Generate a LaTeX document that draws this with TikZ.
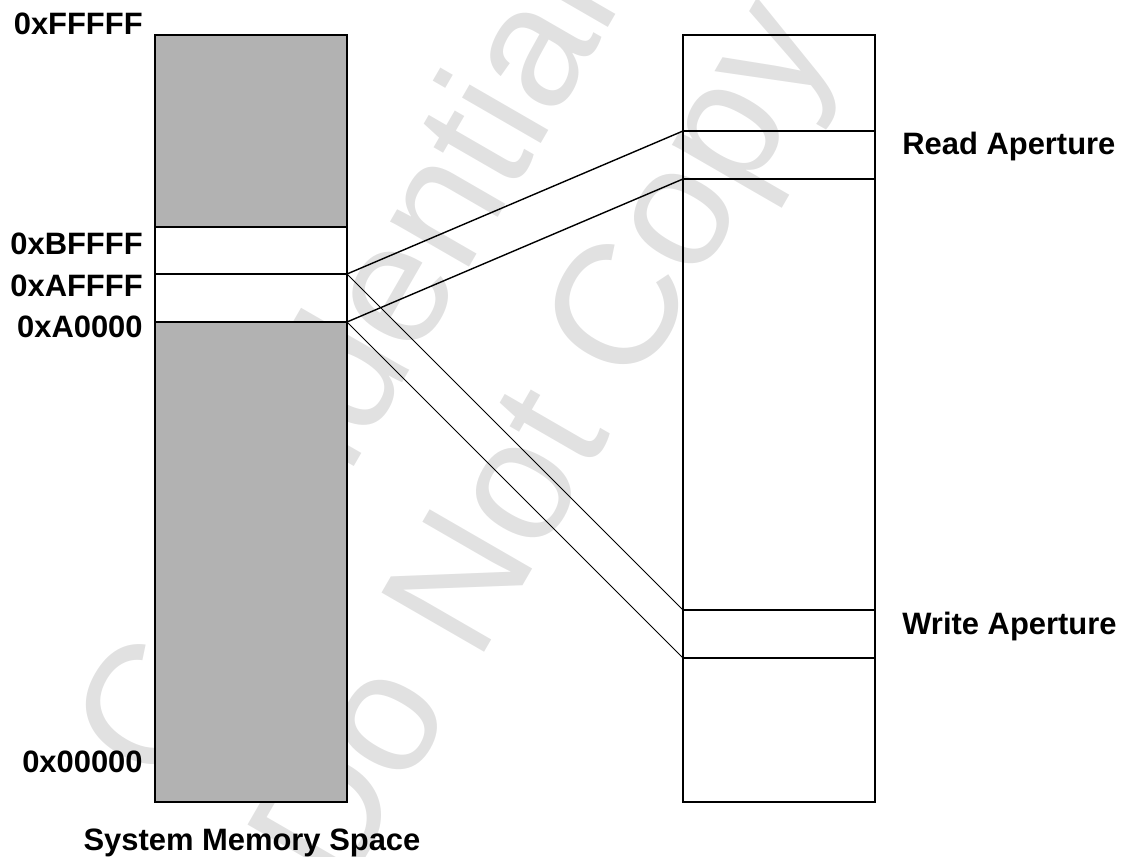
\documentclass[tikz,border=0pt]{standalone}
\usepackage{fontspec}
\setmainfont{Liberation Sans}
\definecolor{memgray}{RGB}{178,178,178}
\definecolor{wmgray}{RGB}{225,225,225}
\begin{document}
\begin{tikzpicture}[x=0.02cm,y=-0.02cm,
  band/.style={draw=black,line width=1.1pt,minimum width=3.84cm,inner sep=0pt,outer sep=0pt},
  grayband/.style={band,fill=memgray},
  addr/.style={font=\fontsize{17.6}{20}\selectfont\bfseries,inner sep=0pt,anchor=base east},
  lbl/.style={font=\fontsize{17.6}{20}\selectfont\bfseries,inner sep=0pt,anchor=base west},
  wm/.style={font=\fontsize{98}{110}\selectfont,text=wmgray,inner sep=0pt,anchor=base,rotate=60},
  readline/.style={line width=0.8pt},
  writeline/.style={line width=0.45pt}]
\useasboundingbox (0,0) rectangle (1129,857);
% watermark
\node[wm] (wm1) at (394,398) {Confidential};
\node[wm] (wm2) at (590,470) {Do Not Copy};
% left column
\node[grayband,minimum height=3.84cm] (ltop) at (251,131) {};
\node[band,minimum height=0.94cm] (lB) at (251,250.5) {};
\node[band,minimum height=0.96cm] (lA) at (251,298) {};
\node[grayband,minimum height=9.6cm] (lbot) at (251,562) {};
% right column
\node[band,minimum height=1.92cm] (rtop) at (779,83) {};
\node[band,minimum height=0.96cm] (rread) at (779,155) {};
\node[band,minimum height=8.62cm] (rmid) at (779,394.5) {};
\node[band,minimum height=0.96cm] (rwrite) at (779,634) {};
\node[band,minimum height=2.88cm] (rbot) at (779,730) {};
% connectors
\draw[readline] (lA.north east) -- (rread.north west);
\draw[readline] (lA.south east) -- (rread.south west);
\draw[writeline] (lA.north east) -- (rwrite.north west);
\draw[writeline] (lA.south east) -- (rwrite.south west);
% address labels
\node[addr] (aF) at (143,35) {0xFFFFF};
\node[addr] (aB) at (143,255) {0xBFFFF};
\node[addr] (aAF) at (143,297) {0xAFFFF};
\node[addr] (aA0) at (143,338) {0xA0000};
\node[addr] (a0) at (143,772) {0x00000};
% other labels
\node[lbl] (readlbl) at (902,155) {Read Aperture};
\node[lbl] (writelbl) at (902,635) {Write Aperture};
\node[font=\fontsize{17.6}{20}\selectfont\bfseries,inner sep=0pt,anchor=base] (sms) at (252,850) {System Memory Space};
\end{tikzpicture}
\end{document}
